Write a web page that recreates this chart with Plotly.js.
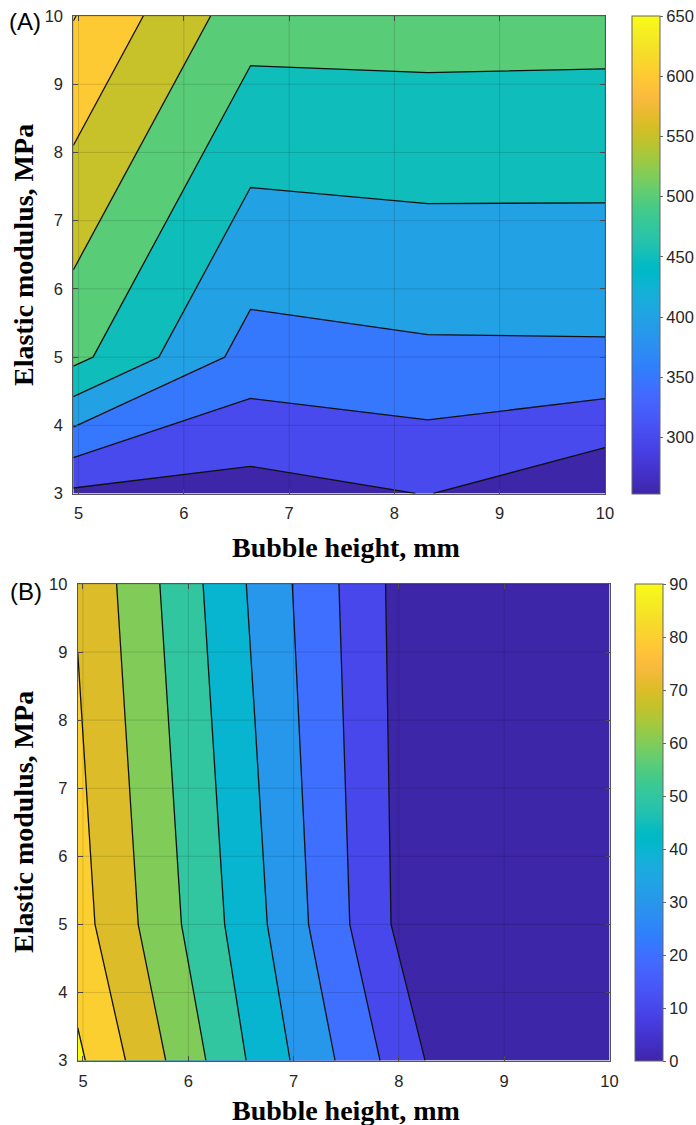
<!DOCTYPE html>
<html><head><meta charset="utf-8">
<script src="https://cdn.plot.ly/plotly-3.0.1.min.js"></script>
<style>html,body{margin:0;padding:0;background:#fff}</style>
</head><body><div id="chart" style="width:696px;height:1125px"></div>
<script>
// ---- data (grid nodes and values) ----
const xGrid = [4.95, 6.633, 8.317, 10];
const yGrid = [3, 5, 10];
const zA = [
  [291, 280, 301.5, 253],
  [515, 380.4, 391.4, 392.5],
  [652, 520.4, 521.6, 519.7]
];
const zB = [
  [91.9, 47.8, 8.4, 0],
  [84, 43, 0, 0],
  [79, 38, 0, 0]
];
const levelsA = {start: 300, end: 650, size: 50};
const levelsB = {start: 10, end: 90, size: 10};
const climA = [253, 650];
const climB = [0, 90];
const xTicks = [5, 6, 7, 8, 9, 10];
const yTicks = [3, 4, 5, 6, 7, 8, 9, 10];
const cbTicksA = [300, 350, 400, 450, 500, 550, 600, 650];
const cbTicksB = [0, 10, 20, 30, 40, 50, 60, 70, 80, 90];

// MATLAB parula (64)
const parulaRows = [
[0.2422,0.1504,0.6603],[0.2504,0.1650,0.7076],[0.2578,0.1818,0.7511],[0.2647,0.1978,0.7952],
[0.2706,0.2147,0.8364],[0.2751,0.2342,0.8710],[0.2783,0.2559,0.8991],[0.2803,0.2782,0.9221],
[0.2813,0.3006,0.9414],[0.2810,0.3228,0.9579],[0.2795,0.3447,0.9717],[0.2760,0.3667,0.9829],
[0.2699,0.3892,0.9906],[0.2602,0.4123,0.9952],[0.2440,0.4358,0.9988],[0.2206,0.4603,0.9973],
[0.1963,0.4847,0.9892],[0.1834,0.5074,0.9798],[0.1786,0.5289,0.9682],[0.1764,0.5499,0.9520],
[0.1687,0.5703,0.9359],[0.1540,0.5902,0.9218],[0.1460,0.6091,0.9079],[0.1380,0.6276,0.8973],
[0.1248,0.6459,0.8883],[0.1113,0.6635,0.8763],[0.0952,0.6798,0.8598],[0.0689,0.6948,0.8394],
[0.0297,0.7082,0.8163],[0.0036,0.7203,0.7917],[0.0067,0.7312,0.7660],[0.0433,0.7411,0.7394],
[0.0964,0.7500,0.7120],[0.1408,0.7584,0.6842],[0.1717,0.7670,0.6554],[0.1938,0.7758,0.6251],
[0.2161,0.7843,0.5923],[0.2470,0.7918,0.5567],[0.2906,0.7973,0.5188],[0.3406,0.8008,0.4789],
[0.3909,0.8029,0.4354],[0.4456,0.8024,0.3909],[0.5044,0.7993,0.3480],[0.5616,0.7942,0.3045],
[0.6174,0.7876,0.2612],[0.6720,0.7793,0.2227],[0.7242,0.7698,0.1910],[0.7738,0.7598,0.1646],
[0.8203,0.7498,0.1535],[0.8634,0.7406,0.1596],[0.9035,0.7330,0.1774],[0.9393,0.7288,0.2100],
[0.9728,0.7298,0.2394],[0.9956,0.7434,0.2371],[0.9970,0.7659,0.2199],[0.9952,0.7893,0.2028],
[0.9892,0.8136,0.1885],[0.9786,0.8386,0.1766],[0.9676,0.8639,0.1643],[0.9610,0.8890,0.1537],
[0.9597,0.9135,0.1423],[0.9628,0.9373,0.1265],[0.9691,0.9606,0.1064],[0.9769,0.9839,0.0805]
];
function rgb(r){return 'rgb('+r.map(v=>Math.round(v*255)).join(',')+')';}
const parulaScale = parulaRows.map((r,i)=>[i/63, rgb(r)]);
function parulaAt(t){
  const p = Math.min(63, Math.max(0, t*63));
  const i = Math.min(62, Math.floor(p)), f = p-i;
  return parulaRows[i].map((v,k)=>v+(parulaRows[i+1][k]-v)*f);
}
function bandScale(levels, clim){
  const n = Math.round((levels.end-levels.start)/levels.size)+1;
  const s=[];
  for(let j=0;j<=n;j++){
    const v = j===0 ? clim[0] : levels.start+(j-1)*levels.size;
    const t = (v-clim[0])/(clim[1]-clim[0]);
    s.push([j/n, rgb(parulaAt(t))]);
  }
  return s;
}

const W=696, H=1125;
const tickFont = {family:'Liberation Sans, Arial, sans-serif', size:16.5, color:'#262626'};
const titleFont = {family:'Liberation Serif, Times New Roman, serif', size:28, color:'#000'};

function colorbarTrace(clim, ticks, xa, ya, cbLeft, cbTop, cbBottom, thick){
  return {type:'heatmap', z:[clim], xaxis:xa, yaxis:ya, colorscale:parulaScale,
    zmin:clim[0], zmax:clim[1], hoverinfo:'skip',
    colorbar:{x:cbLeft/W, xanchor:'left', y:1-cbTop/H, yanchor:'top',
      len:(cbBottom-cbTop)/H, lenmode:'fraction', thickness:thick, thicknessmode:'pixels',
      xpad:0, ypad:0, outlinewidth:1, outlinecolor:'#666', tickvals:ticks,
      ticks:'outside', ticklen:3, tickcolor:'#666', tickfont:tickFont, ticklabelstandoff:7}};
}
function contourTrace(z, levels, clim, xa, ya){
  return {type:'contour', x:xGrid, y:yGrid, z:z, xaxis:xa, yaxis:ya,
    autocontour:false, contours:Object.assign({coloring:'fill', showlines:true}, levels),
    colorscale:bandScale(levels, clim), showscale:false,
    line:{color:'#111', width:1.3, smoothing:0}, hoverinfo:'skip'};
}

const data = [
  colorbarTrace(climA, cbTicksA, 'x', 'y', 631.5, 16, 493.5, 28),
  contourTrace(zA, levelsA, climA, 'x', 'y'),
  colorbarTrace(climB, cbTicksB, 'x2', 'y2', 635, 584, 1060.5, 28),
  contourTrace(zB, levelsB, climB, 'x2', 'y2')
];

function xax(l, r, anchor, standoff){
  return {domain:[l/W, r/W], range:[4.95,10], anchor:anchor, tickvals:xTicks,
    ticks:'inside', ticklen:5, tickcolor:'#555', showline:true, linecolor:'#555', linewidth:1,
    mirror:'ticks', showgrid:false, zeroline:false, tickfont:tickFont, ticklabelstandoff:standoff, fixedrange:true};
}
function yax(t, b, anchor){
  return {domain:[1-b/H, 1-t/H], range:[3,10], anchor:anchor, tickvals:yTicks,
    ticks:'inside', ticklen:5, tickcolor:'#555', showline:true, linecolor:'#555', linewidth:1,
    mirror:'ticks', showgrid:false, zeroline:false, tickfont:tickFont, ticklabelstandoff:6, fixedrange:true};
}

const shapes = [];
[['x','y'],['x2','y2']].forEach(([xa,ya])=>{
  xTicks.forEach(t=>shapes.push({type:'line', layer:'above', xref:xa, yref:ya+' domain', x0:t, x1:t, y0:0, y1:1,
    line:{color:'rgba(0,0,0,0.14)', width:1}}));
  yTicks.forEach(t=>shapes.push({type:'line', layer:'above', xref:xa+' domain', yref:ya, x0:0, x1:1, y0:t, y1:t,
    line:{color:'rgba(0,0,0,0.14)', width:1}}));
});

function ann(text, x, y, font, angle){
  return {text:text, xref:'paper', yref:'paper', x:x/W, y:1-y/H, xanchor:'center', yanchor:'middle',
    showarrow:false, font:font, textangle:angle||0};
}
const panelFont = {family:'Liberation Sans, Arial, sans-serif', size:24, color:'#000'};
const annotations = [
  ann('(A)', 25, 22, panelFont),
  ann('(B)', 26, 591, panelFont),
  ann('<b>Bubble height, mm</b>', 346, 548, titleFont),
  ann('<b>Bubble height, mm</b>', 346, 1110, titleFont),
  ann('<b>Elastic modulus, MPa</b>', 23, 255, titleFont, -90),
  ann('<b>Elastic modulus, MPa</b>', 23, 822, titleFont, -90)
];

const layout = {width:W, height:H, margin:{l:0,r:0,t:0,b:0}, paper_bgcolor:'#fff', plot_bgcolor:'#fff',
  showlegend:false,
  xaxis:xax(73.3, 605, 'y', 5), yaxis:yax(16, 493.5, 'x'),
  xaxis2:xax(77.7, 609.5, 'y2', 6), yaxis2:yax(584, 1060.5, 'x2'),
  shapes:shapes, annotations:annotations};

Plotly.newPlot('chart', data, layout, {displayModeBar:false, staticPlot:true});
</script></body></html>
